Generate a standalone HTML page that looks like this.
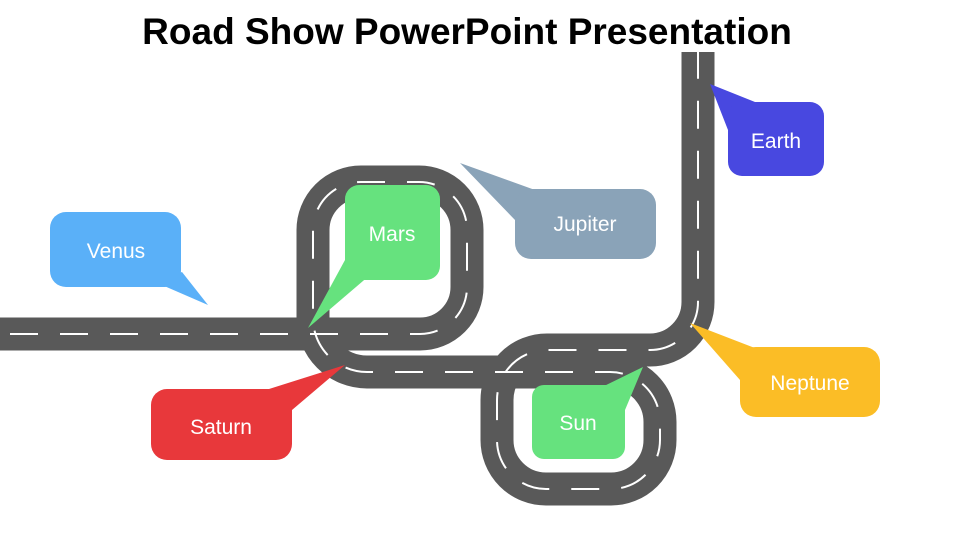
<!DOCTYPE html>
<html><head><meta charset="utf-8"><style>
html,body{margin:0;padding:0;background:#fff;}
svg{display:block}
</style></head><body>
<svg width="960" height="540" viewBox="0 0 960 540" xmlns="http://www.w3.org/2000/svg">
<text x="467" y="44" text-anchor="middle" font-family="Liberation Sans, sans-serif" font-weight="bold" font-size="37" fill="#000">Road Show PowerPoint Presentation</text>
<g fill="none">
<path d="M0,334 H420 A47,47 0 0 0 467,287 V230 A48,48 0 0 0 419,182 H361 A48,48 0 0 0 313,230 V318 A54,54 0 0 0 367,372 H610 A50,50 0 0 1 660,422 V440 A49,49 0 0 1 611,489 H546 A49,49 0 0 1 497,440 V400 A50,50 0 0 1 547,350 H650 A48,48 0 0 0 698,302 V52" stroke="#595959" stroke-width="33"/>
<path d="M0,334 H420 A47,47 0 0 0 467,287 V230 A48,48 0 0 0 419,182 H361 A48,48 0 0 0 313,230 V318 A54,54 0 0 0 367,372 H610 A50,50 0 0 1 660,422 V440 A49,49 0 0 1 611,489 H546 A49,49 0 0 1 497,440 V400 A50,50 0 0 1 547,350 H650 A48,48 0 0 0 698,302 V52" stroke="#fff" stroke-width="2" stroke-dasharray="28 22" stroke-dashoffset="-10"/>
</g>
<g font-family="Liberation Sans, sans-serif" font-size="21" fill="#fff" text-anchor="middle">
<polygon points="155,282 182,272 208,305" fill="#5ab0f8"/>
<rect x="50" y="212" width="131" height="75" rx="16" fill="#5ab0f8"/>
<text x="116" y="258">Venus</text>
<polygon points="345,260 370,275 308,328" fill="#66e27e"/>
<rect x="345" y="185" width="95" height="95" rx="14" fill="#66e27e"/>
<text x="392" y="241">Mars</text>
<polygon points="515,220 535,190 460,163" fill="#8aa3b8"/>
<rect x="515" y="189" width="141" height="70" rx="16" fill="#8aa3b8"/>
<text x="585" y="231">Jupiter</text>
<polygon points="728,130 760,104 710,84" fill="#4848e0"/>
<rect x="728" y="102" width="96" height="74" rx="14" fill="#4848e0"/>
<text x="776" y="148">Earth</text>
<polygon points="740,380 760,350 690,323" fill="#fbbd26"/>
<rect x="740" y="347" width="140" height="70" rx="16" fill="#fbbd26"/>
<text x="810" y="390">Neptune</text>
<polygon points="250,395 292,410 345,365" fill="#e8383b"/>
<rect x="151" y="389" width="141" height="71" rx="16" fill="#e8383b"/>
<text x="221" y="434">Saturn</text>
<polygon points="600,388 625,410 643,367" fill="#66e27e"/>
<rect x="532" y="385" width="93" height="74" rx="12" fill="#66e27e"/>
<text x="578" y="430">Sun</text>
</g>
</svg>
</body></html>
